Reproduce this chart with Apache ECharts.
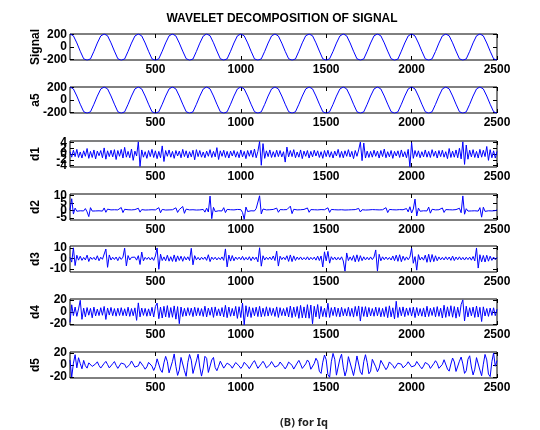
<!DOCTYPE html>
<html>
<head>
<meta charset="utf-8">
<script src="https://cdn.jsdelivr.net/npm/echarts@6/dist/echarts.min.js"></script>
<style>
  html, body { margin: 0; padding: 0; background: #fff; }
  #myChart { width: 540px; height: 430px; }
</style>
</head>
<body>
<div id="myChart"></div>
<script>
// panel names (y labels) and tick labels
const panelNames = ['Signal', 'a5', 'd1', 'd2', 'd3', 'd4', 'd5'];
const xTicks = [500, 1000, 1500, 2000, 2500];
const yTicks = [[-200, 0, 200], [-200, 0, 200], [-4, -2, 0, 2, 4], [-5, 0, 5, 10], [-10, 0, 10], [-20, 0, 20], [-20, 0, 20]];
const yLimits = [[-210, 210], [-210, 210], [-4.5, 4.5], [-6.5, 11], [-13, 12], [-22, 22], [-22, 22]];

// signal and approximation, one value every 20 samples
const signalVals = [
  212,180,66,-68,-190,-214,-192,-70,64,178,
  211,181,67,-66,-189,-215,-193,-71,63,177,
  212,179,65,-69,-191,-214,-190,-68,66,180,
  210,178,64,-67,-188,-215,-194,-72,62,176,
  212,182,68,-65,-190,-213,-191,-69,65,179,
  211,180,66,-68,-192,-214,-192,-70,64,178,
  212,177,63,-70,-189,-215,-193,-69,67,181,
  210,181,67,-66,-191,-214,-190,-71,63,177,
  212,179,65,-68,-190,-213,-192,-70,64,180,
  211,180,66,-67,-188,-215,-194,-68,65,178,
  212,178,64,-69,-191,-214,-191,-72,63,179,
  210,181,67,-66,-190,-214,-192,-70,66,180,
  212,179,65,-68,-190,-214
];
const a5Vals = [
  212,178,64,-68,-188,-214,-190,-69,63,177,
  211,179,65,-67,-189,-214,-191,-70,64,178,
  212,178,64,-68,-189,-214,-190,-69,64,178,
  211,178,64,-67,-188,-214,-191,-70,63,177,
  212,179,65,-67,-189,-214,-190,-69,64,178,
  211,178,64,-68,-189,-214,-191,-70,64,178,
  212,178,64,-68,-188,-214,-190,-69,64,178,
  211,179,65,-67,-189,-214,-190,-70,63,177,
  212,178,64,-68,-189,-214,-191,-69,64,178,
  211,178,64,-67,-188,-214,-191,-69,64,178,
  212,178,64,-68,-189,-214,-190,-70,63,178,
  211,179,65,-67,-189,-214,-191,-69,64,178,
  212,178,64,-68,-189,-214
];

// detail coefficients, one value every 10 samples
const d1Vals = [
  0.8,-1.1,1.3,-0.9,1.6,-1.2,0.7,-1.4,1.1,-0.8,1.9,-1.5,0.9,-1.2,1.4,-1.7,1.0,-0.6,1.2,-1.3,2.1,-1.8,1.1,-0.9,1.3,
  -1.0,1.5,-1.9,1.2,-0.8,1.6,-1.4,2.3,-1.1,0.9,-1.3,1.7,-2.2,1.0,-0.7,4.2,-4.3,1.4,-1.1,0.8,-1.5,1.2,-0.9,1.6,-1.2,
  1.1,-1.6,0.9,-1.3,2.8,-2.6,1.2,-0.8,1.4,-1.1,0.9,-1.5,1.2,-0.7,1.0,-1.3,1.6,-0.9,1.1,-1.4,0.8,-1.0,1.3,-2.0,1.5,
  -0.9,1.2,-1.1,0.7,-1.3,1.0,-0.8,1.5,-1.2,0.9,-1.0,2.2,-1.9,1.1,-0.8,1.3,-1.2,0.9,-1.4,1.0,-0.7,1.2,-1.1,0.8,-1.3,
  1.4,-1.0,0.9,-1.6,1.2,-0.8,1.3,-1.1,1.7,-1.3,0.9,4.3,-3.9,3.6,-1.5,1.1,-0.9,1.4,-1.2,0.8,-1.1,1.3,-0.9,1.2,-1.0,
  0.8,-2.8,2.4,-1.0,1.2,-0.9,1.5,-1.3,0.7,-1.1,1.4,-1.6,1.0,-0.8,1.2,-1.4,0.9,-1.0,1.3,-0.7,1.1,-1.2,0.8,-1.5,1.2,
  -0.9,1.3,-1.1,0.8,-1.4,1.0,-0.7,1.6,-1.2,0.9,-1.3,1.1,-0.8,1.5,-1.0,0.9,-1.6,1.2,-0.8,1.4,4.1,-2.3,3.8,-1.4,1.0,
  -1.2,0.9,-1.1,1.3,-0.8,1.0,-1.4,1.2,-0.9,1.7,-1.3,0.8,-1.0,1.2,-1.5,0.9,-0.7,1.1,-1.2,1.4,-1.0,0.8,-1.3,1.6,-4.4,
  3.9,-1.5,1.2,-0.9,1.1,-1.3,0.8,-1.0,1.4,-1.1,0.9,-1.2,1.5,-0.8,1.0,-1.4,1.2,-0.9,1.3,-1.1,0.8,-1.6,1.9,-1.2,1.0,
  -1.1,1.4,-1.3,2.0,-1.7,4.2,-3.6,3.1,-1.8,1.3,-1.0,1.5,-1.2,0.9,-1.4,1.6,-1.1,1.3,-0.9,2.6,-2.2,1.5,-1.3,1.1,-1.4,
  0.9
];
const d2Vals = [
  0.3,7.8,-2.5,1.5,-0.6,0.4,-0.3,0.5,-0.4,1.2,-1.0,-4.2,1.8,-0.5,0.3,-0.4,0.6,-0.3,0.4,-0.5,1.6,-1.3,0.8,-0.4,0.3,
  -0.3,0.4,-0.5,0.3,-0.4,1.9,-1.5,0.7,-0.3,0.4,-0.2,0.3,-0.4,0.5,-0.3,1.4,-1.2,0.5,-0.3,0.2,-0.4,0.3,-0.2,0.4,-0.3,
  0.3,-0.4,1.8,-1.6,0.6,-0.3,0.2,-0.4,0.3,-0.2,0.4,-0.3,1.7,-1.4,0.5,-0.3,2.6,-2.0,0.8,-0.4,0.3,-0.2,0.4,-0.3,0.2,
  -0.4,0.3,-0.5,0.6,-1.2,1.5,-1.1,9.6,-5.6,2.0,-0.8,0.4,-0.3,0.5,-0.4,1.8,-1.5,0.6,-0.3,0.4,-0.5,0.3,-0.4,0.6,-0.3,
  0.5,-1.4,-6.0,2.2,-0.8,0.4,-0.3,0.5,-0.4,1.2,0.8,9.8,-2.4,0.9,-0.4,0.3,-0.5,0.4,-0.3,0.6,-0.4,1.5,-1.3,0.5,-0.3,
  0.4,-0.3,0.5,-0.4,2.8,-2.2,0.7,-0.4,0.3,-0.5,0.4,-0.3,0.6,-0.4,1.6,-1.3,0.5,-0.3,0.4,-0.2,0.3,-0.4,0.5,-0.3,0.4,
  -0.5,1.7,-1.4,0.6,-0.3,0.4,-0.2,0.3,-0.5,0.4,-0.3,0.2,-0.4,0.3,-0.2,0.4,-0.3,0.5,-0.4,1.3,-1.1,0.4,-0.3,0.2,-0.4,
  0.3,-0.4,0.5,-0.3,0.4,-0.2,0.3,-0.5,0.4,-0.3,1.8,-1.5,0.6,-0.3,0.4,-0.5,0.3,-0.4,0.5,-0.3,0.4,-0.6,1.2,-1.0,2.4,
  -1.8,0.9,7.6,-3.8,1.5,-0.6,0.4,-0.3,0.5,-0.4,2.2,-1.9,0.7,-0.4,0.3,-0.5,0.4,-0.3,1.6,-1.4,0.5,-0.3,0.4,-0.2,0.3,
  -0.4,0.5,-0.6,1.4,-1.6,9.7,-2.6,1.1,-0.5,0.3,-0.4,0.6,-0.3,0.4,-0.5,1.8,-4.6,2.1,-0.7,0.4,-0.3,0.5,-0.4,0.3,-0.2,
  0.3
];
const d3Vals = [
  1.2,-3.5,10.2,-6.8,3.1,-1.6,2.2,-1.8,1.0,-1.4,3.2,-2.9,1.3,-0.9,1.1,-1.5,2.6,-2.2,1.2,-0.8,1.0,9.1,-8.5,3.4,-1.5,
  1.2,-1.0,1.4,-2.1,1.6,-0.9,1.3,9.9,-7.2,2.8,-1.4,1.1,-0.8,1.3,-1.6,2.7,-5.8,6.2,-2.3,1.1,-0.9,1.2,-1.4,1.0,-1.8,
  2.4,10.1,-10.4,4.2,-2.0,1.5,-2.2,3.1,-2.6,1.7,-2.8,3.4,-3.1,2.5,-1.9,2.2,-2.7,1.8,-1.4,1.6,-2.0,9.8,-6.1,2.7,-1.3,
  1.1,-1.5,1.2,-0.9,1.4,-1.8,3.6,-3.0,1.3,-1.0,1.2,-1.4,0.9,-1.1,1.5,-1.8,9.2,-8.1,3.3,-2.5,2.8,-2.2,1.4,-1.0,1.3,
  -1.2,2.0,-1.6,1.1,-1.4,1.7,-2.1,1.5,-1.1,1.3,-3.2,10.3,-7.4,2.6,-1.5,1.2,-1.0,1.4,-1.3,2.4,-2.0,7.1,-7.3,2.2,-1.1,
  1.3,-1.2,2.6,-2.8,3.4,-3.0,2.5,-1.9,1.4,-1.1,1.5,-1.3,0.9,-1.2,1.6,-1.4,1.1,-1.0,1.3,-1.6,2.2,-2.0,2.4,-8.2,6.4,
  -2.3,6.8,-4.5,1.7,-1.2,1.3,-1.5,1.1,-1.3,1.6,-2.4,-12.2,5.3,-2.0,1.5,-1.8,2.8,-3.2,3.5,-2.9,2.7,-2.1,1.6,-1.4,1.2,
  -1.3,1.5,-1.1,1.4,8.2,-12.1,4.0,-2.2,1.6,-1.2,1.4,-1.1,1.0,-1.5,2.4,-2.1,3.2,-2.7,3.6,-3.1,2.2,-1.8,1.5,-1.2,1.4,
  9.8,-4.6,1.8,-11.2,3.7,-1.5,1.3,-1.6,3.2,-3.7,4.1,-3.5,3.8,-3.0,2.6,-2.2,1.5,-1.3,1.1,-1.4,1.6,-1.2,1.4,-1.8,2.3,
  -2.0,1.4,-1.2,1.6,-1.3,1.1,-1.5,1.2,-1.1,1.3,-1.6,1.9,-2.3,10.1,-9.2,3.6,-3.2,2.9,-3.4,3.1,-2.6,2.2,-1.8,1.4,-1.2,
  1.0
];
const d4Vals = [
  -17.5,12.2,-6.1,8.4,-7.3,5.2,19.8,-12.4,6.6,-8.1,7.5,-5.4,6.2,-9.8,8.3,-6.7,4.9,-6.1,7.2,-5.5,9.4,-12.6,6.8,-5.2,7.7,
  -6.3,5.8,-7.1,6.4,-5.9,7.3,-6.2,5.5,-6.8,8.1,-7.4,5.9,-6.3,7.0,-14.1,15.4,-8.2,6.7,-5.8,6.1,-7.2,5.3,-6.6,7.9,-8.5,
  9.2,15.1,-11.3,8.4,-10.2,9.6,-8.3,10.8,-9.4,7.5,-8.9,10.3,-12.1,9.1,-19.8,8.4,-7.6,6.3,-6.9,7.4,-5.7,6.6,-7.8,8.1,-6.4,
  7.1,-6.2,5.8,-7.5,9.8,-8.3,6.7,-5.5,7.9,-9.1,8.6,-6.3,5.4,-6.8,7.5,-8.2,11.3,-9.6,8.4,-7.2,6.1,-6.7,9.5,-10.8,8.9,
  -9.4,15.2,-21.8,10.6,-7.9,8.7,-9.3,7.1,-6.4,8.2,-7.7,9.6,-8.1,6.5,-7.2,8.8,-6.9,7.4,-5.8,6.3,-7.5,8.6,-9.2,7.3,-6.1,
  5.9,-6.8,7.7,-8.4,10.1,-9.5,8.2,-7.6,9.3,-10.7,11.2,-9.8,8.6,-9.9,12.4,-10.6,11.8,-19.9,9.7,-8.3,12.6,-11.2,9.4,-7.8,6.5,
  -8.7,14.8,-9.2,7.3,-6.1,8.4,-7.5,6.6,-8.2,7.9,-6.4,5.7,-6.9,8.1,-7.3,6.2,-8.6,9.4,-7.1,10.2,-15.3,8.8,-7.4,9.1,-8.3,
  7.6,-6.8,5.9,-7.2,8.3,-6.5,7.4,-8.1,6.2,-7.7,8.9,-9.6,10.4,-8.2,7.1,-11.6,18.2,-9.3,7.8,-6.4,8.6,-7.9,6.8,-5.7,7.3,
  -6.9,8.2,-9.4,7.5,-6.3,5.8,-7.1,6.9,-8.5,9.7,-7.6,6.4,-5.9,7.8,-8.2,9.1,-7.3,6.6,-10.2,11.4,-9.1,8.7,-7.2,10.6,-8.8,
  9.3,-10.4,8.1,-7.6,12.5,20.5,-15.2,9.8,-8.4,7.2,-6.5,8.3,-9.2,10.1,-8.6,7.9,-16.1,8.7,-6.8,5.9,-7.4,6.7,-5.8,7.1,-6.2,
  4.8
];
const d5Vals = [
  8.2,-20.5,3.1,17.4,-4.8,12.3,2.5,-6.4,7.8,-1.2,-5.3,3.6,5.1,-2.4,-4.6,1.8,5.4,-0.9,-5.2,-3.8,2.7,6.1,0.8,-4.9,-3.5,
  2.2,5.8,-0.6,-5.7,-4.1,3.4,6.3,1.2,-4.8,-5.5,0.7,6.8,3.9,-3.6,-6.2,-1.4,5.7,5.2,-2.3,-7.1,-3.2,4.4,7.6,-1.9,-9.2,
  -2.6,10.4,7.2,-8.3,-12.5,3.7,14.6,5.8,-13.2,-15.4,6.1,18.7,-2.3,-17.6,-8.4,12.8,15.9,-9.6,-19.1,4.5,17.8,8.2,-14.3,-17.5,6.9,
  18.4,-3.5,-18.8,-5.2,14.7,11.3,-12.6,-14.1,8.5,12.8,-4.3,-9.7,-2.1,6.4,4.8,-5.3,-4.6,3.2,5.7,-0.8,-5.4,-3.1,4.2,5.6,-1.5,
  -5.8,-2.2,4.6,5.1,-1.7,-6.2,-3.5,3.8,7.4,0.9,-5.6,-4.8,2.1,6.3,1.6,-4.9,-5.7,0.4,5.8,3.2,-3.6,-6.4,-0.7,5.1,4.7,
  -2.4,-6.6,-1.8,4.9,6.2,-0.5,-6.9,-3.7,3.3,7.8,1.4,-5.8,-6.7,1.9,8.5,4.6,-7.2,-9.8,2.6,11.4,6.3,-10.7,-14.2,4.8,16.9,
  8.7,-16.3,-20.8,5.4,19.6,9.8,-17.2,-15.1,10.3,18.2,-3.6,-18.5,-8.4,14.1,16.7,-6.9,-17.9,-3.2,15.3,12.4,-11.6,-16.2,5.7,17.4,4.3,
  -14.8,-10.5,9.6,12.7,-3.1,-11.4,-5.2,7.8,8.4,-2.6,-7.9,-3.4,5.2,6.8,-0.9,-5.7,-4.4,3.1,6.2,1.3,-4.8,-5.9,0.6,5.4,3.7,
  -3.2,-6.1,-0.8,5.9,4.6,-2.5,-6.4,-1.9,4.3,6.6,0.5,-5.8,-5.1,2.4,7.2,2.8,-5.6,-7.8,0.9,8.9,5.7,-6.8,-10.4,1.6,11.8,
  5.2,-10.9,-11.6,6.4,13.5,1.8,-14.2,-9.7,9.8,15.6,-3.4,-16.8,-7.1,12.5,14.3,-8.6,-18.2,1.4,17.9,8.6,-15.4,-19.6,5.8,20.3,-2.1,
  7.6
];

const panelData = [signalVals, a5Vals, d1Vals, d2Vals, d3Vals, d4Vals, d5Vals];
const panelStep = [20, 20, 10, 10, 10, 10, 10];

// layout
const panelTops = [34, 87, 141, 194, 246, 299, 352];
const panelHeight = 26;
const tickFont = { fontFamily: 'Liberation Sans', fontWeight: 'bold', fontSize: 12, color: '#000' };
const plain = function (v) { return String(v); };

let grids = [], xAxes = [], yAxes = [], seriesList = [];
panelNames.forEach(function (name, k) {
  grids.push({
    left: 70, right: 43, top: panelTops[k], height: panelHeight,
    show: true, borderColor: '#000', borderWidth: 1
  });
  // bottom axis with labels, top axis with ticks only
  xAxes.push({
    gridIndex: k, type: 'value', min: 0, max: 2500, position: 'bottom',
    axisLine: { show: false, onZero: false },
    axisTick: { inside: true, length: 4, lineStyle: { color: '#000' }, customValues: xTicks },
    axisLabel: Object.assign({ margin: 4, customValues: xTicks, formatter: plain, hideOverlap: false,
      showMinLabel: true, showMaxLabel: true }, tickFont),
    splitLine: { show: false }
  });
  xAxes.push({
    gridIndex: k, type: 'value', min: 0, max: 2500, position: 'top',
    axisLine: { show: false, onZero: false },
    axisTick: { inside: true, length: 4, lineStyle: { color: '#000' }, customValues: xTicks },
    axisLabel: { show: false },
    splitLine: { show: false }
  });
  // main left axis: name and ticks; the series is drawn on it
  let mainY = yAxes.length;
  yAxes.push({
    gridIndex: k, type: 'value', min: yLimits[k][0], max: yLimits[k][1], position: 'left',
    name: name, nameLocation: 'middle', nameGap: 28, nameRotate: 90, nameMoveOverlap: false,
    nameTextStyle: { fontFamily: 'Liberation Sans', fontWeight: 'bold', fontSize: 12, color: '#000' },
    axisLine: { show: false, onZero: false },
    axisTick: { inside: true, length: 4, lineStyle: { color: '#000' }, customValues: yTicks[k] },
    axisLabel: { show: false },
    splitLine: { show: false }
  });
  // one label-only axis per tick value, so crowded labels overlap like the original instead of being dropped
  yTicks[k].forEach(function (t) {
    yAxes.push({
      gridIndex: k, type: 'value', min: yLimits[k][0], max: yLimits[k][1], position: 'left', offset: 0,
      axisLine: { show: false, onZero: false },
      axisTick: { show: false },
      axisLabel: Object.assign({ margin: 3, customValues: [t], formatter: plain,
        showMinLabel: true, showMaxLabel: true }, tickFont),
      splitLine: { show: false }
    });
  });
  yAxes.push({
    gridIndex: k, type: 'value', min: yLimits[k][0], max: yLimits[k][1], position: 'right',
    axisLine: { show: false, onZero: false },
    axisTick: { inside: true, length: 4, lineStyle: { color: '#000' }, customValues: yTicks[k] },
    axisLabel: { show: false },
    splitLine: { show: false }
  });
  seriesList.push({
    name: name, type: 'line',
    xAxisIndex: 2 * k, yAxisIndex: mainY,
    data: panelData[k].map(function (v, i) { return [i * panelStep[k], v]; }),
    showSymbol: false, clip: true,
    lineStyle: { width: 1, color: '#0000ff' }
  });
});

let myChart = echarts.init(document.getElementById('myChart'));
let option = {
  backgroundColor: '#fff',
  animation: false,
  grid: grids,
  xAxis: xAxes,
  yAxis: yAxes,
  series: seriesList,
  graphic: [
    {
      type: 'text', x: 282, y: 19,
      style: { text: 'WAVELET DECOMPOSITION OF SIGNAL', fill: '#000', align: 'center', verticalAlign: 'middle',
        font: 'bold 12px "Liberation Sans"' }
    },
    {
      type: 'text', x: 304, y: 423,
      style: { text: '(B) for Iq', fill: '#222', align: 'center', verticalAlign: 'middle',
        font: 'bold 11px "Noto Sans"' }
    }
  ]
};
myChart.setOption(option);
</script>
</body>
</html>
